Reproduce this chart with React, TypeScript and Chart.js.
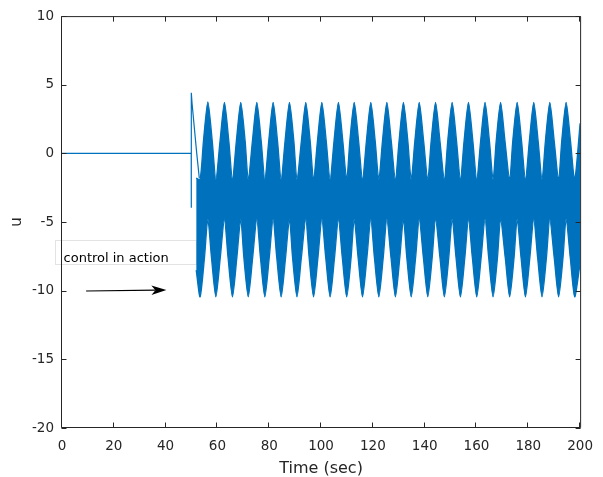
import { useEffect, useRef } from "react";
import { Chart, registerables } from "chart.js";
Chart.register(...registerables);

// ---- data ----
// signal before / at the switch-on of the controller
const leadTimes = [0, 49.88, 49.9, 49.93, 50.2, 51.1, 52.0, 53.0];
const leadValues = [0, 0, -3.96, 4.42, 3.65, 1.83, 0.02, -1.8];

// upper envelope of the fast oscillation: [time, u]
const upperEnvelope: [number, number][] = [
  [51.8, -1.8], [53.3, -1.9],
  [54.6, 0.9], [56.3, 3.75], [58.0, 0.9], [59.4, -1.9],
  [61.0, 0.9], [62.7, 3.72], [64.4, 0.9], [65.8, -1.9],
  [67.3, 0.9], [69.0, 3.72], [70.7, 0.9], [71.9, -1.9],
  [73.5, 0.9], [75.2, 3.72], [76.9, 0.9], [78.3, -1.9],
  [79.8, 0.9], [81.5, 3.72], [83.2, 0.9], [84.6, -1.9],
  [86.1, 0.9], [87.8, 3.72], [89.5, 0.9], [90.7, -1.9],
  [92.4, 0.9], [94.1, 3.72], [95.8, 0.9], [97.1, -1.9],
  [98.6, 0.9], [100.3, 3.72], [102.0, 0.9], [103.5, -1.9],
  [105.0, 0.9], [106.7, 3.72], [108.4, 0.9], [109.9, -1.9],
  [111.1, 0.9], [112.8, 3.72], [114.5, 0.9], [116.0, -1.9],
  [117.5, 0.9], [119.2, 3.72], [120.9, 0.9], [122.3, -1.9],
  [123.7, 0.9], [125.4, 3.72], [127.1, 0.9], [128.7, -1.9],
  [130.1, 0.9], [131.8, 3.72], [133.5, 0.9], [134.8, -1.9],
  [136.2, 0.9], [137.9, 3.72], [139.6, 0.9], [141.2, -1.9],
  [142.5, 0.9], [144.2, 3.72], [145.9, 0.9], [147.6, -1.9],
  [148.9, 0.9], [150.6, 3.72], [152.3, 0.9], [153.8, -1.9],
  [155.2, 0.9], [156.9, 3.72], [158.6, 0.9], [160.1, -1.9],
  [161.6, 0.9], [163.3, 3.72], [165.0, 0.9], [166.4, -1.9],
  [167.6, 0.9], [169.3, 3.72], [171.0, 0.9], [172.8, -1.9],
  [174.0, 0.9], [175.7, 3.72], [177.4, 0.9], [178.9, -1.9],
  [180.4, 0.9], [182.1, 3.72], [183.8, 0.9], [185.3, -1.9],
  [186.6, 0.9], [188.3, 3.72], [190.0, 0.9], [191.7, -1.9],
  [192.9, 0.9], [194.6, 3.72], [196.3, 0.9], [197.9, -1.9],
  [200, 2.2],
];

// lower envelope of the fast oscillation: [time, u]
const lowerEnvelope: [number, number][] = [
  [51.8, -8.5], [53.3, -10.45], [55.0, -7.6], [56.3, -4.8],
  [57.7, -7.6], [59.4, -10.45], [61.1, -7.6], [62.7, -4.8],
  [64.1, -7.6], [65.8, -10.45], [67.5, -7.6], [69.0, -4.8],
  [70.2, -7.6], [71.9, -10.45], [73.6, -7.6], [75.2, -4.8],
  [76.6, -7.6], [78.3, -10.45], [80.0, -7.6], [81.5, -4.8],
  [82.9, -7.6], [84.6, -10.45], [86.3, -7.6], [87.8, -4.8],
  [89.0, -7.6], [90.7, -10.45], [92.4, -7.6], [94.1, -4.8],
  [95.4, -7.6], [97.1, -10.45], [98.8, -7.6], [100.3, -4.8],
  [101.8, -7.6], [103.5, -10.45], [105.2, -7.6], [106.7, -4.8],
  [108.2, -7.6], [109.9, -10.45], [111.6, -7.6], [112.8, -4.8],
  [114.3, -7.6], [116.0, -10.45], [117.7, -7.6], [119.2, -4.8],
  [120.6, -7.6], [122.3, -10.45], [124.0, -7.6], [125.4, -4.8],
  [127.0, -7.6], [128.7, -10.45], [130.4, -7.6], [131.8, -4.8],
  [133.1, -7.6], [134.8, -10.45], [136.5, -7.6], [137.9, -4.8],
  [139.5, -7.6], [141.2, -10.45], [142.9, -7.6], [144.2, -4.8],
  [145.9, -7.6], [147.6, -10.45], [149.3, -7.6], [150.6, -4.8],
  [152.1, -7.6], [153.8, -10.45], [155.5, -7.6], [156.9, -4.8],
  [158.4, -7.6], [160.1, -10.45], [161.8, -7.6], [163.3, -4.8],
  [164.7, -7.6], [166.4, -10.45], [168.1, -7.6], [169.3, -4.8],
  [171.1, -7.6], [172.8, -10.45], [174.5, -7.6], [175.7, -4.8],
  [177.2, -7.6], [178.9, -10.45], [180.6, -7.6], [182.1, -4.8],
  [183.6, -7.6], [185.3, -10.45], [187.0, -7.6], [188.3, -4.8],
  [190.0, -7.6], [191.7, -10.45], [193.4, -7.6], [194.6, -4.8],
  [196.2, -7.6], [197.9, -10.45], [200, -8.0],
];

// faint gap line inside the band
const glitchTimes = [108.4, 108.4];
const glitchValues = [-2.15, -7.1];

const xTickValues = [0, 20, 40, 60, 80, 100, 120, 140, 160, 180, 200];
const yTickValues = [-20, -15, -10, -5, 0, 5, 10];

const annotationText = "control in action";

const BLUE = "rgb(0,114,189)";
const AXIS = "#262626";
const FONT = "'DejaVu Sans', sans-serif";

const toXY = (xs: number[], ys: number[]) => xs.map((x, i) => ({ x, y: ys[i] }));
const pairsToXY = (p: [number, number][]) => p.map(([x, y]) => ({ x, y }));

const framePlugin = {
  id: "frame",
  beforeDatasetsDraw(chart: any) {
    const { ctx, scales } = chart;
    const x = scales.x, y = scales.y;
    const l = Math.round(x.getPixelForValue(-2.6)) + 0.5;
    const r = Math.round(x.getPixelForValue(51.7)) + 0.5;
    const t = Math.round(y.getPixelForValue(-6.33)) + 0.5;
    const b = Math.round(y.getPixelForValue(-8.07)) + 0.5;
    ctx.save();
    ctx.strokeStyle = "#e3e3e3";
    ctx.lineWidth = 1;
    ctx.strokeRect(l, t, r - l, b - t);
    ctx.restore();
  },
  afterDraw(chart: any) {
    const { ctx, chartArea: a, scales } = chart;
    const x = scales.x, y = scales.y;
    ctx.save();
    ctx.font = `13px ${FONT}`;
    ctx.fillStyle = "#000";
    ctx.textBaseline = "alphabetic";
    ctx.textAlign = "left";
    ctx.fillText(annotationText, x.getPixelForValue(0.6), y.getPixelForValue(-7.88));
    // arrow
    const x0 = x.getPixelForValue(9.3), y0 = y.getPixelForValue(-10.02);
    const x1 = x.getPixelForValue(40.3), y1 = y.getPixelForValue(-9.95);
    const ang = Math.atan2(y1 - y0, x1 - x0);
    const c = Math.cos(ang), s = Math.sin(ang);
    const pt = (along: number, across: number) => [x1 + along * c - across * s, y1 + along * s + across * c];
    ctx.strokeStyle = "#000";
    ctx.lineWidth = 1.1;
    const notch = pt(-11, 0);
    ctx.beginPath();
    ctx.moveTo(x0, y0);
    ctx.lineTo(notch[0], notch[1]);
    ctx.stroke();
    ctx.fillStyle = "#000";
    ctx.beginPath();
    const p1 = pt(-15, -4.7), p2 = pt(-15, 4.7);
    ctx.moveTo(x1, y1);
    ctx.lineTo(p1[0], p1[1]);
    ctx.lineTo(notch[0], notch[1]);
    ctx.lineTo(p2[0], p2[1]);
    ctx.closePath();
    ctx.fill();

    // axes box with inward ticks
    ctx.strokeStyle = AXIS;
    ctx.lineWidth = 1;
    const L = a.left - 0.5, R = a.right + 0.5, T = a.top + 0.5, B = a.bottom - 0.5;
    ctx.beginPath();
    ctx.rect(L, T, R - L, B - T);
    const tl = 5;
    for (const tk of x.ticks) {
      const px = Math.round(x.getPixelForValue(tk.value)) - 0.5;
      ctx.moveTo(px, B);
      ctx.lineTo(px, B - tl);
      ctx.moveTo(px, T);
      ctx.lineTo(px, T + tl);
    }
    for (const tk of y.ticks) {
      const py = Math.round(y.getPixelForValue(tk.value)) + 0.5;
      ctx.moveTo(L, py);
      ctx.lineTo(L + tl, py);
      ctx.moveTo(R, py);
      ctx.lineTo(R - tl, py);
    }
    ctx.stroke();
    ctx.restore();
  },
};

export default function App() {
  const ref = useRef<HTMLCanvasElement | null>(null);
  useEffect(() => {
    if (!ref.current) return;
    const chart = new Chart(ref.current, {
      type: "line",
      data: {
        datasets: [
          {
            data: pairsToXY(upperEnvelope),
            borderColor: BLUE,
            backgroundColor: BLUE,
            borderWidth: 1.3,
            pointRadius: 0,
            tension: 0.25,
            fill: "+1",
          },
          {
            data: pairsToXY(lowerEnvelope),
            borderColor: BLUE,
            backgroundColor: BLUE,
            borderWidth: 1.3,
            pointRadius: 0,
            tension: 0.25,
            fill: false,
          },
          {
            data: toXY(leadTimes, leadValues),
            borderColor: BLUE,
            borderWidth: 1.2,
            pointRadius: 0,
            tension: 0,
            fill: false,
          },
          {
            data: toXY(glitchTimes, glitchValues),
            borderColor: "#9cc2e6",
            borderWidth: 1,
            pointRadius: 0,
            fill: false,
          },
        ],
      },
      options: {
        animation: false,
        responsive: true,
        maintainAspectRatio: false,
        layout: { padding: { left: 0, right: 20, top: 14, bottom: 0 } },
        plugins: { legend: { display: false }, tooltip: { enabled: false } },
        scales: {
          x: {
            type: "linear",
            min: 0,
            max: 200,
            afterBuildTicks: (s: any) => {
              s.ticks = xTickValues.map((v) => ({ value: v }));
            },
            afterFit: (s: any) => {
              s.height = 49;
            },
            grid: { display: false, drawTicks: false },
            border: { display: false },
            ticks: { color: AXIS, padding: 10, font: { family: FONT, size: 13.5 }, maxRotation: 0, autoSkip: false },
            title: {
              display: true,
              text: "Time (sec)",
              color: AXIS,
              font: { family: FONT, size: 16, lineHeight: 1 },
              padding: { top: 0, bottom: 0 },
            },
          },
          y: {
            type: "linear",
            min: -20,
            max: 10,
            afterBuildTicks: (s: any) => {
              s.ticks = yTickValues.map((v) => ({ value: v }));
            },
            afterFit: (s: any) => {
              s.width = 62;
            },
            grid: { display: false, drawTicks: false },
            border: { display: false },
            ticks: { color: AXIS, padding: 8, font: { family: FONT, size: 13.5 }, autoSkip: false },
            title: {
              display: true,
              text: "u",
              color: AXIS,
              font: { family: FONT, size: 15, lineHeight: 1 },
              padding: { top: 10, bottom: 0 },
            },
          },
        },
      },
      plugins: [framePlugin],
    });
    return () => chart.destroy();
  }, []);
  return (
    <div style={{ position: "fixed", left: 0, top: 0, width: 603, height: 477, background: "#fff" }}>
      <canvas ref={ref} />
    </div>
  );
}
